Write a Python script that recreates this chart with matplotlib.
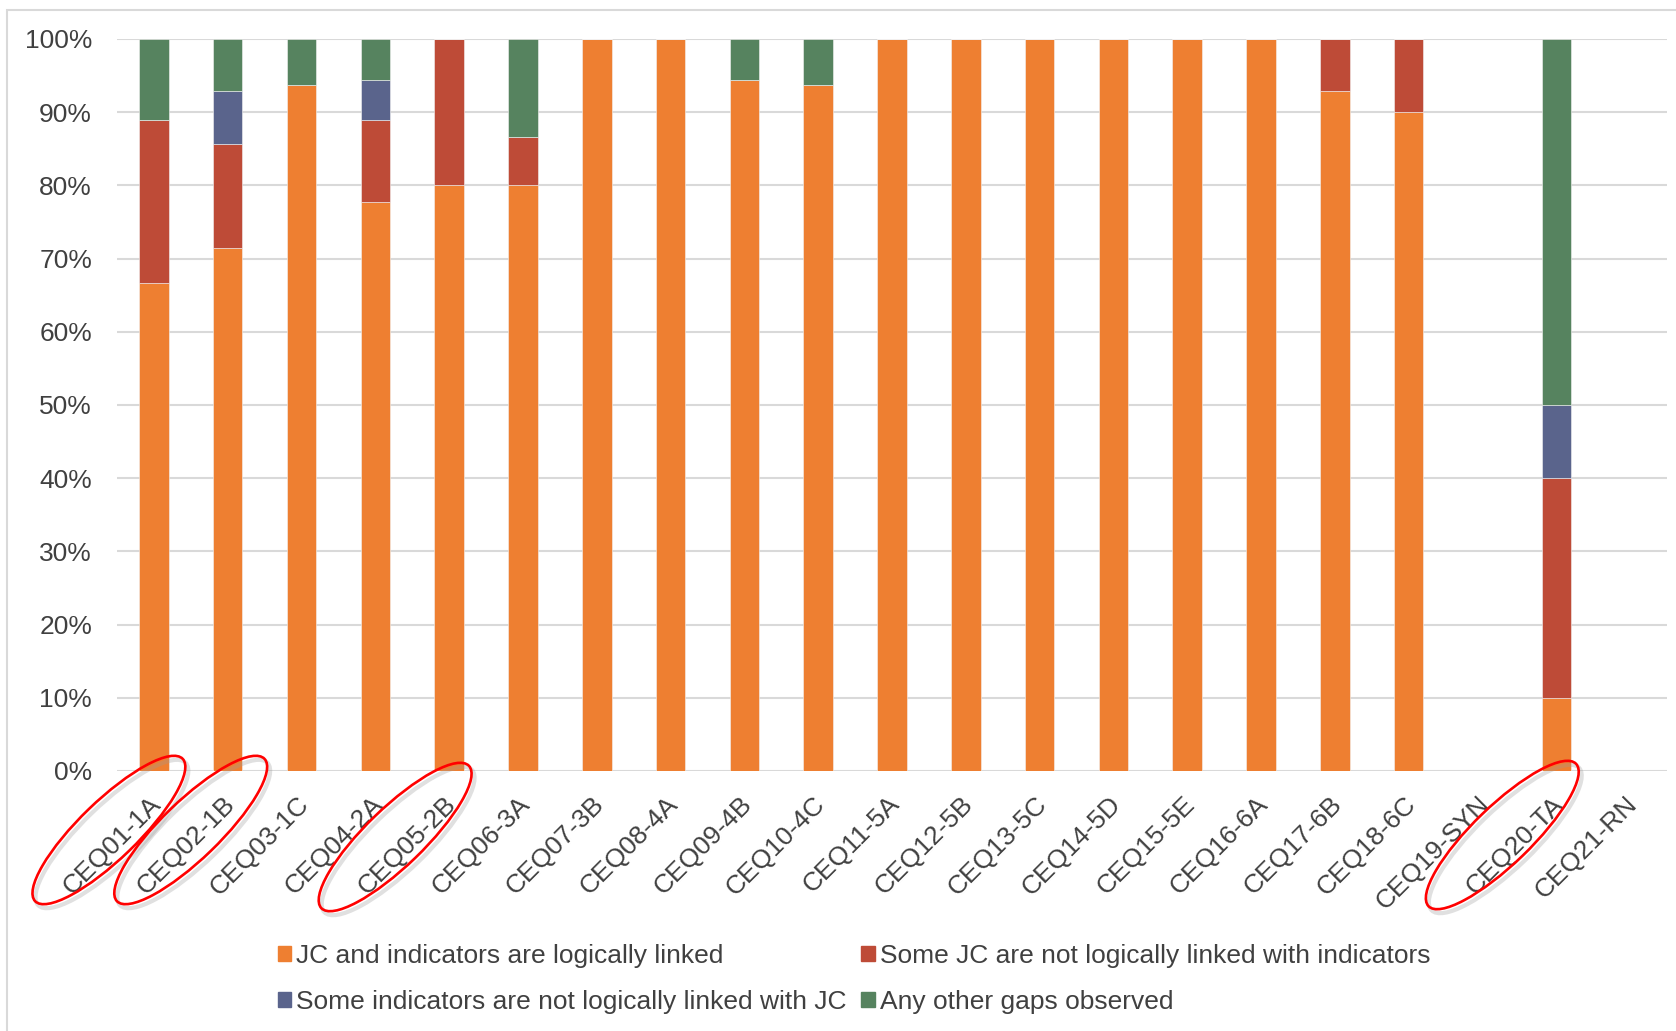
import numpy as np
import matplotlib
matplotlib.use("Agg")
import matplotlib.pyplot as plt
from matplotlib.patches import Patch, Ellipse, Rectangle
from matplotlib.transforms import ScaledTranslation, IdentityTransform

plt.rcParams['font.family'] = ['Liberation Sans', 'DejaVu Sans']

# data (percent of items per question)
categories = ['CEQ01-1A', 'CEQ02-1B', 'CEQ03-1C', 'CEQ04-2A', 'CEQ05-2B', 'CEQ06-3A',
              'CEQ07-3B', 'CEQ08-4A', 'CEQ09-4B', 'CEQ10-4C', 'CEQ11-5A', 'CEQ12-5B',
              'CEQ13-5C', 'CEQ14-5D', 'CEQ15-5E', 'CEQ16-6A', 'CEQ17-6B', 'CEQ18-6C',
              'CEQ19-SYN', 'CEQ20-TA', 'CEQ21-RN']
linked = [66.67, 71.43, 93.75, 77.78, 80.0, 80.0, 100, 100, 94.44, 93.75, 100, 100,
          100, 100, 100, 100, 92.86, 90.0, 0, 10.0, 0]
jc_not_linked = [22.22, 14.29, 0, 11.11, 20.0, 6.67, 0, 0, 0, 0, 0, 0,
                 0, 0, 0, 0, 7.14, 10.0, 0, 30.0, 0]
ind_not_linked = [0, 7.14, 0, 5.56, 0, 0, 0, 0, 0, 0, 0, 0,
                  0, 0, 0, 0, 0, 0, 0, 10.0, 0]
other_gaps = [11.11, 7.14, 6.25, 5.55, 0, 13.33, 0, 0, 5.56, 6.25, 0, 0,
              0, 0, 0, 0, 0, 0, 0, 50.0, 0]
series_names = ['JC and indicators are logically linked',
                'Some JC are not logically linked with indicators',
                'Some indicators are not logically linked with JC',
                'Any other gaps observed']
colors = ['#EE7F31', '#BE4B37', '#5A648C', '#56835F']
circled = ['CEQ01-1A', 'CEQ02-1B', 'CEQ05-2B', 'CEQ20-TA']

txt = '#404040'
fs = 19

fig = plt.figure(figsize=(16.76, 10.31), dpi=100)
W, H = 1676, 1031
ax = fig.add_axes([117 / W, 1 - 771 / H, 1550 / W, 732 / H])

x = np.arange(len(categories))
bottom = np.zeros(len(categories))
for vals, col in zip([linked, jc_not_linked, ind_not_linked, other_gaps], colors):
    vals = np.array(vals, dtype=float)
    ax.bar(x, vals, width=0.4, bottom=bottom, color=col, edgecolor='#f3f3f3',
           linewidth=0.4, zorder=3)
    bottom += vals

ax.set_xlim(-0.5, len(categories) - 0.5)
ax.set_ylim(0, 100)
ax.set_yticks(np.arange(0, 101, 10))
ax.set_yticklabels([f'{v}%' for v in range(0, 101, 10)], fontsize=fs, color=txt)
ax.yaxis.grid(True, color='#D9D9D9', linewidth=1.5, zorder=0)
ax.tick_params(axis='y', length=0, pad=18)
ax.tick_params(axis='x', length=0, pad=15)
for s in ax.spines.values():
    s.set_visible(False)

ax.set_xticks(x)
labels = ax.set_xticklabels(categories, rotation=45, ha='right', va='top',
                            rotation_mode='anchor', fontsize=fs, color=txt)
shift = ScaledTranslation(-5 / 100, 0, fig.dpi_scale_trans)
for lab in labels:
    lab.set_transform(lab.get_transform() + shift)

# outer chart frame
fig.add_artist(Rectangle((7 / W, -0.1), 1.2, 1 - 10 / H + 0.1, transform=fig.transFigure,
                         fill=False, edgecolor='#D9D9D9', linewidth=1.5))

# legend (row-major in the reference, matplotlib fills columns first)
handles = [Patch(color=c) for c in colors]
order = [0, 2, 1, 3]
fig.legend([handles[i] for i in order], [series_names[i] for i in order],
           loc='upper left', bbox_to_anchor=(278 / W, 1 - 944 / H), ncol=2,
           frameon=False, fontsize=fs, labelcolor=txt, handlelength=0.5,
           handleheight=0.5, handletextpad=0.2, columnspacing=0.55,
           labelspacing=0.83, borderpad=0, borderaxespad=0)

# hand-drawn red ellipses round some labels (pixel offsets from the tick)
ell_offsets = {'CEQ01-1A': (-45, 59), 'CEQ02-1B': (-37, 59),
               'CEQ05-2B': (-54, 66), 'CEQ20-TA': (-54, 64)}
fig.canvas.draw()
for name in circled:
    i = categories.index(name)
    tx, ty = ax.transData.transform((i, 0))
    dx, dy = ell_offsets[name]
    cx, cy = tx + dx, ty - dy
    fig.add_artist(Ellipse((cx + 3, cy - 4), 205, 58, angle=44, fill=False,
                           edgecolor='#9a9a9a', linewidth=3, alpha=0.3,
                           transform=IdentityTransform()))
    fig.add_artist(Ellipse((cx, cy), 205, 58, angle=44, fill=False,
                           edgecolor='#FF0000', linewidth=1.9,
                           transform=IdentityTransform()))

fig.savefig('out.png', dpi=100)
